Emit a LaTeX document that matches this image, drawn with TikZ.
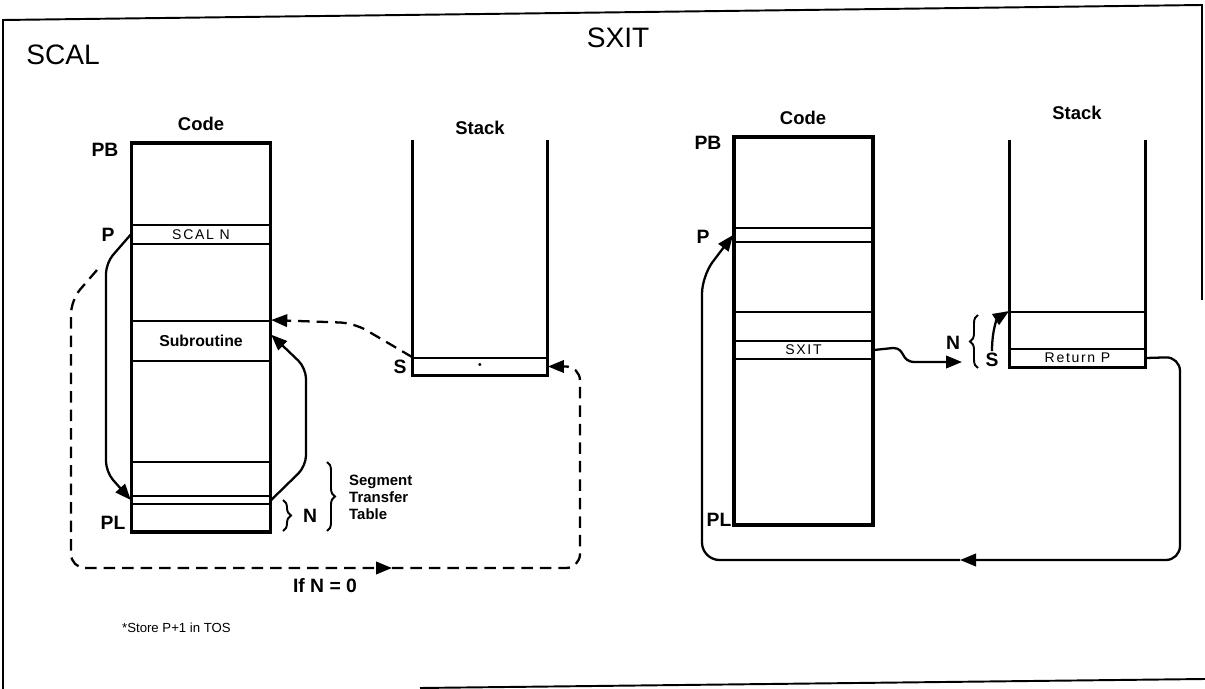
\documentclass[tikz,border=0pt]{standalone}
\usepackage{fontspec}
\setmainfont{Liberation Sans}
\newfontfamily\spacedfont[LetterSpace=12]{Liberation Sans}
\usetikzlibrary{arrows.meta,calc,decorations.pathreplacing}

\begin{document}
\begin{tikzpicture}[x=0.02cm, y=-0.02cm,
    codebox/.style={draw, line width=1.8pt, minimum width=2.77cm,
                    minimum height=7.78cm, inner sep=0pt},
    stackbox/.style={inner sep=0pt, minimum height=4.6cm},
    slot/.style={draw, line width=1.1pt, minimum width=2.77cm, inner sep=0pt,
                 font=\fontsize{8}{9}\spacedfont},
    lbl/.style={font=\fontsize{11}{12}\selectfont\bfseries, inner sep=1pt},
    ttl/.style={font=\fontsize{10.5}{12}\selectfont\bfseries},
    arr/.style={-{Triangle[length=0.32cm,width=0.25cm]}, line width=1.3pt},
    dsh/.style={arr, dash pattern=on 0.23cm off 0.14cm},
    brc/.style={decorate, decoration={brace, amplitude=0.16cm}, line width=1.1pt}]

  \useasboundingbox (0,0) rectangle (1205,689);

  %% Frame
  \draw[line width=1.1pt] (3,689) -- (3,20) -- (1202,5) -- (1202,300);
  \draw[line width=1.1pt] (420,688) -- (1205,679);

  %% Titles
  \node[font=\fontsize{16}{18}\selectfont] (scal) at (63,55) {SCAL};
  \node[font=\fontsize{16}{18}\selectfont] (sxit) at (618,38) {SXIT};

  %% SCAL: code segment
  \node[ttl] (codeLlbl) at (201,124) {Code};
  \node[codebox] (codeL) at (201,337.5) {};
  \node[slot, minimum height=0.38cm] (scaln) at (201,234.5) {SCAL N};
  \node[slot, minimum height=0.8cm, font=\fontsize{9}{10}\selectfont\bfseries]
    (subr) at (201,341) {Subroutine};
  \node[slot, minimum height=0.68cm] (sttop) at (201,479) {};
  \node[slot, minimum height=0.16cm] (sttn) at (201,500) {};
  \node[lbl] (pbL) at (105,150) {PB};
  \node[lbl] (pL) at (108,235) {P};
  \node[lbl] (plL) at (113,523) {PL};

  %% SCAL: stack
  \node[ttl] (stackLlbl) at (480,128) {Stack};
  \node[stackbox, minimum width=2.68cm, minimum height=4.7cm] (stackL) at (480,257.5) {};
  \draw[line width=1.8pt] (stackL.north west) -- (stackL.south west)
    -- (stackL.south east) -- (stackL.north east);
  \node[slot, minimum width=2.68cm, minimum height=0.34cm] (tos) at (480,366.5)
    {\fontsize{6}{6}\selectfont\textbullet};
  \node[lbl] (sL) at (400,367) {S};

  %% SCAL: braces
  \draw[brc] (283,500) -- (283,531);
  \node[lbl] (nL) at (310,516) {N};
  \draw[brc] (327,462) -- (327,531);
  \node[font=\fontsize{8.5}{9.7}\selectfont\bfseries, align=left, anchor=west]
    (segtxt) at (343,497) {Segment\\Transfer\\Table};

  %% SCAL: connectors
  \draw[arr, rounded corners=6pt] (scaln.west) -- (106,263) -- (106,472) -- (sttn.west);
  \draw[arr, rounded corners=6pt] (sttn.east) -- (306,466) -- (306,368)
    -- ($(subr.north east)!0.35!(subr.south east)$);
  \draw[dsh, rounded corners=8pt] (tos.north west) -- (354,323) -- (subr.north east);
  \coordinate (dstart) at (97,270);
  \coordinate (ifmid) at (392,568);
  \draw[dsh, rounded corners=8pt] (dstart) -- (71,300) -- (71,568) -- (ifmid);
  \draw[dsh, rounded corners=8pt] (ifmid) -- (580,568) -- (580,366.5) -- (tos.east);
  \node[lbl] (ifn) at (325,586) {If N = 0};

  \node[font=\fontsize{7.5}{9}\selectfont, anchor=west] (note) at (116,628) {*Store P+1 in TOS};

  %% SXIT: code segment
  \node[ttl] (codeRlbl) at (803,118) {Code};
  \node[codebox, minimum width=2.78cm, minimum height=7.76cm] (codeR) at (803.5,331) {};
  \node[slot, minimum width=2.78cm, minimum height=0.28cm] (prow) at (803.5,235) {};
  \node[slot, minimum width=2.78cm, minimum height=0.58cm] (blank) at (803.5,326.5) {};
  \node[slot, minimum width=2.78cm, minimum height=0.36cm] (sxitrow) at (803.5,350) {SXIT};
  \node[lbl] (pbR) at (708,143) {PB};
  \node[lbl] (pR) at (703,237) {P};
  \node[lbl] (plR) at (719,520) {PL};

  %% SXIT: stack
  \node[ttl] (stackRlbl) at (1077,113) {Stack};
  \node[stackbox, minimum width=2.7cm, minimum height=4.54cm] (stackR) at (1077.5,253.5) {};
  \draw[line width=1.8pt] (stackR.north west) -- (stackR.south west)
    -- (stackR.south east) -- (stackR.north east);
  \node[slot, minimum width=2.7cm, minimum height=0.74cm] (sfree) at (1077.5,330.5) {};
  \node[slot, minimum width=2.7cm, minimum height=0.36cm] (retp) at (1077.5,358) {Return P};

  \draw[brc] (978,368) -- (978,315);
  \node[lbl] (nR) at (953,343) {N};
  \node[lbl] (sR) at (992,360) {S};

  %% SXIT: connectors
  \coordinate (nin) at (962,362);
  \draw[arr] (sxitrow.east) -- (893,348) .. controls (906,348) and (900,362) .. (915,362) -- (nin);
  \draw[arr] (sR.north) .. controls (992,328) and (998,318) .. (sfree.north west);
  \coordinate (retmid) at (960,560);
  \draw[arr, rounded corners=8pt] (retp.east) -- (1180,357) -- (1180,560) -- (retmid);
  \draw[arr, rounded corners=10pt] (retmid) -- (702,560) -- (702,276) -- (prow.west);

\end{tikzpicture}
\end{document}
